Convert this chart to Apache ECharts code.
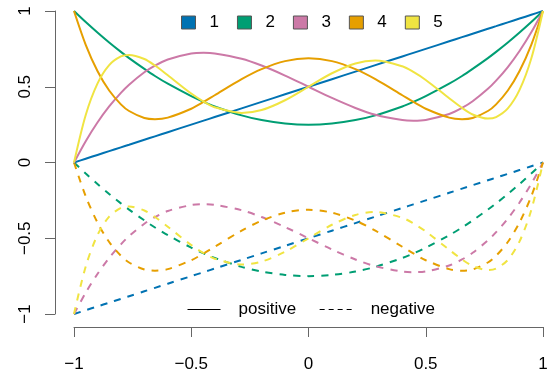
<!DOCTYPE html>
<html><head><meta charset="utf-8">
<script src="https://cdn.jsdelivr.net/npm/echarts@6/dist/echarts.min.js"></script>
<style>html,body{margin:0;padding:0;background:#fff}#c{width:551px;height:373px}</style>
</head><body><div id="c"></div>
<script>
var xs   = [-1,-0.95,-0.9,-0.85,-0.8,-0.7651,-0.7,-0.6547,-0.6,-0.5,-0.4472,-0.4,-0.2852,-0.2,-0.1,0,0.1,0.2,0.2852,0.4,0.4472,0.5,0.6,0.6547,0.7,0.7651,0.8,0.85,0.9,0.95,1];
var pos1 = [0,0.025,0.05,0.075,0.1,0.1174,0.15,0.1726,0.2,0.25,0.2764,0.3,0.3574,0.4,0.45,0.5,0.55,0.6,0.6426,0.7,0.7236,0.75,0.8,0.8274,0.85,0.8826,0.9,0.925,0.95,0.975,1];
var pos2 = [1,0.927,0.858,0.792,0.73,0.689,0.618,0.571,0.52,0.438,0.4,0.37,0.311,0.28,0.258,0.25,0.258,0.28,0.311,0.37,0.4,0.438,0.52,0.571,0.618,0.689,0.73,0.792,0.858,0.927,1];
var pos3 = [0,0.141,0.264,0.370,0.46,0.514,0.596,0.640,0.68,0.719,0.724,0.72,0.685,0.64,0.574,0.5,0.426,0.36,0.315,0.28,0.276,0.281,0.32,0.360,0.404,0.486,0.54,0.630,0.736,0.859,1];
var pos4 = [1,0.777,0.604,0.475,0.384,0.340,0.294,0.286,0.296,0.355,0.4,0.444,0.550,0.616,0.669,0.688,0.669,0.616,0.550,0.444,0.4,0.355,0.296,0.286,0.294,0.340,0.384,0.475,0.604,0.777,1];
var pos5 = [0,0.314,0.521,0.643,0.700,0.710,0.683,0.640,0.576,0.455,0.402,0.365,0.327,0.346,0.411,0.5,0.589,0.654,0.673,0.635,0.598,0.545,0.424,0.360,0.317,0.290,0.300,0.357,0.479,0.686,1];
var neg1 = [-1,-0.975,-0.95,-0.925,-0.9,-0.8826,-0.85,-0.8274,-0.8,-0.75,-0.7236,-0.7,-0.6426,-0.6,-0.55,-0.5,-0.45,-0.4,-0.3574,-0.3,-0.2764,-0.25,-0.2,-0.1726,-0.15,-0.1174,-0.1,-0.075,-0.05,-0.025,0];
var neg2 = [0,-0.073,-0.142,-0.208,-0.27,-0.311,-0.382,-0.429,-0.48,-0.562,-0.6,-0.63,-0.689,-0.72,-0.742,-0.75,-0.742,-0.72,-0.689,-0.63,-0.6,-0.562,-0.48,-0.429,-0.382,-0.311,-0.27,-0.208,-0.142,-0.073,0];
var neg3 = [-1,-0.859,-0.736,-0.630,-0.54,-0.486,-0.404,-0.360,-0.32,-0.281,-0.276,-0.28,-0.315,-0.36,-0.426,-0.5,-0.574,-0.64,-0.685,-0.72,-0.724,-0.719,-0.68,-0.640,-0.596,-0.514,-0.46,-0.370,-0.264,-0.141,0];
var neg4 = [0,-0.223,-0.396,-0.525,-0.616,-0.660,-0.706,-0.714,-0.704,-0.645,-0.6,-0.556,-0.450,-0.384,-0.331,-0.312,-0.331,-0.384,-0.450,-0.556,-0.6,-0.645,-0.704,-0.714,-0.706,-0.660,-0.616,-0.525,-0.396,-0.223,0];
var neg5 = [-1,-0.686,-0.479,-0.357,-0.300,-0.290,-0.317,-0.360,-0.424,-0.545,-0.598,-0.635,-0.673,-0.654,-0.589,-0.5,-0.411,-0.346,-0.327,-0.365,-0.402,-0.455,-0.576,-0.640,-0.683,-0.710,-0.700,-0.643,-0.521,-0.314,0];
var names = ['1','2','3','4','5'];
var colors = ['#0072B2','#009E73','#CC79A7','#E69F00','#F0E442'];
var posSets = [pos1,pos2,pos3,pos4,pos5];
var negSets = [neg1,neg2,neg3,neg4,neg5];
var styleNames = ['positive','negative'];

var FONT = 'Liberation Sans, Arial, sans-serif';
function pairs(ys){ return xs.map(function(x,i){ return [x, ys[i]]; }); }
function fmt(v){ return String(v).replace('-', '\u2212'); }

var series = [];
posSets.forEach(function(s,i){
  series.push({name:names[i], type:'line', data:pairs(s), showSymbol:false, symbol:'none', smooth:0.3,
    color:colors[i], lineStyle:{width:2, color:colors[i]}, z:3});
});
negSets.forEach(function(s,i){
  series.push({name:names[i], type:'line', data:pairs(s), showSymbol:false, symbol:'none', smooth:0.3,
    color:colors[i], lineStyle:{width:2, color:colors[i], type:[7,7]}, z:2});
});
series.push({name:styleNames[0], type:'line', data:[], symbol:'none', color:'#000', lineStyle:{width:1, color:'#000', type:'solid'}});
series.push({name:styleNames[1], type:'line', data:[], symbol:'none', color:'#000', lineStyle:{width:1, color:'#000', type:[5,4]}});

function axisCommon(){
  return {
    axisLine:{show:true, onZero:false, lineStyle:{color:'#666', width:1}},
    axisTick:{show:true, length:10, lineStyle:{color:'#666', width:1}},
    splitLine:{show:false}
  };
}

var chart = echarts.init(document.getElementById('c'), null, {renderer:'canvas'});
chart.setOption({
  animation:false,
  backgroundColor:'#fff',
  grid:{left:74, right:8, top:11, bottom:57, containLabel:false},
  xAxis:Object.assign({type:'value', min:-1, max:1, interval:0.5, offset:13,
    axisLabel:{fontSize:17, color:'#000', fontFamily:FONT, margin:29, formatter:fmt}}, axisCommon()),
  yAxis:Object.assign({type:'value', min:-1, max:1, interval:0.5, offset:19,
    axisLabel:{fontSize:17, color:'#000', fontFamily:FONT, margin:21, rotate:90, formatter:fmt}}, axisCommon()),
  legend:[
    {data:names, left:181, top:14, padding:0, icon:'rect', itemWidth:14, itemHeight:13, itemGap:18, orient:'horizontal',
     itemStyle:{borderColor:'#555', borderWidth:1},
     textStyle:{fontSize:17, color:'#000', fontFamily:FONT, padding:[0,0,0,9]}, selectedMode:false},
    {data:styleNames, left:187, top:301, padding:0, itemWidth:33, itemHeight:14, itemGap:23,
     lineStyle:{width:1}, itemStyle:{opacity:0},
     textStyle:{fontSize:17, color:'#000', fontFamily:FONT, padding:[0,0,0,13]}, selectedMode:false}
  ],
  series:series
});
</script></body></html>
